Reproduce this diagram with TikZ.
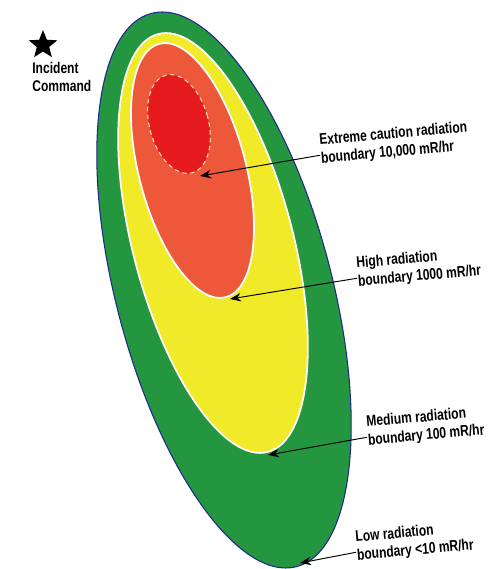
\documentclass[tikz,border=0pt]{standalone}
\usepackage{fontspec}
\newfontfamily\zonefont{Liberation Sans}[FakeStretch=0.78]
\usepackage{xcolor}
\usepackage{tikz}
\usetikzlibrary{arrows.meta,positioning,shapes.geometric}

\definecolor{zonegreen}{RGB}{37,150,64}
\definecolor{zoneyellow}{RGB}{241,234,40}
\definecolor{zoneorange}{RGB}{236,88,57}
\definecolor{zonered}{RGB}{229,27,30}
\definecolor{zoneedge}{RGB}{30,40,140}
\definecolor{dashedge}{RGB}{250,222,170}

\begin{document}
\begin{tikzpicture}[
  >=Stealth,
  zonetext/.style={font=\zonefont\bfseries\fontsize{8.8}{10.4}\selectfont, align=left, inner sep=0pt},
  pointer/.style={->, line width=0.55pt, >={Stealth[length=2.2mm,width=1.7mm]}},
]
\useasboundingbox (0,0) rectangle (9.76,11.38);

% Radiation zones (outer to inner)
\fill[zonegreen, draw=zoneedge, line width=0.6pt]
  (4.48,5.58) ellipse[x radius=2.16, y radius=5.72, rotate=14.7];
\fill[zoneyellow, draw=white, line width=1pt]
  (4.26,6.52) ellipse[x radius=1.60, y radius=4.32, rotate=14.7];
\fill[zoneorange, draw=white, line width=1pt]
  (3.85,7.97) ellipse[x radius=1.07, y radius=2.62, rotate=14.7];
\fill[zonered, draw=dashedge, line width=0.6pt, dash pattern=on 2.5pt off 2pt]
  (3.58,8.90) ellipse[x radius=0.59, y radius=1.01, rotate=15];

% Incident command post
\node[star, star points=5, star point ratio=2.3, fill=black, inner sep=0pt, minimum size=0.6cm] (cmdstar) at (0.86,10.48) {};
\node[zonetext, anchor=north west] (cmdlabel) at (0.64,10.14) {Incident\\Command};

% Boundary labels
\node[zonetext, anchor=west, rotate=5] (extreme) at (6.40,8.38) {Extreme caution radiation\\boundary 10,000 mR/hr};
\node[zonetext, anchor=west, rotate=5] (high) at (7.14,5.92) {High radiation\\boundary 1000 mR/hr};
\node[zonetext, anchor=west, rotate=5] (medium) at (7.34,2.74) {Medium radiation\\boundary 100 mR/hr};
\node[zonetext, anchor=west, rotate=5] (low) at (7.12,0.44) {Low radiation\\boundary <10 mR/hr};

% Arrow tips on the boundaries
\coordinate (extremeTip) at (4.00,7.86);
\coordinate (highTip) at (4.60,5.40);
\coordinate (mediumTip) at (5.36,2.28);
\coordinate (lowTip) at (6.00,0.12);

\foreach \lab in {extreme, high, medium, low} {
  \draw[pointer] ([yshift=-3pt]\lab.west) -- (\lab Tip);
}
\end{tikzpicture}
\end{document}
